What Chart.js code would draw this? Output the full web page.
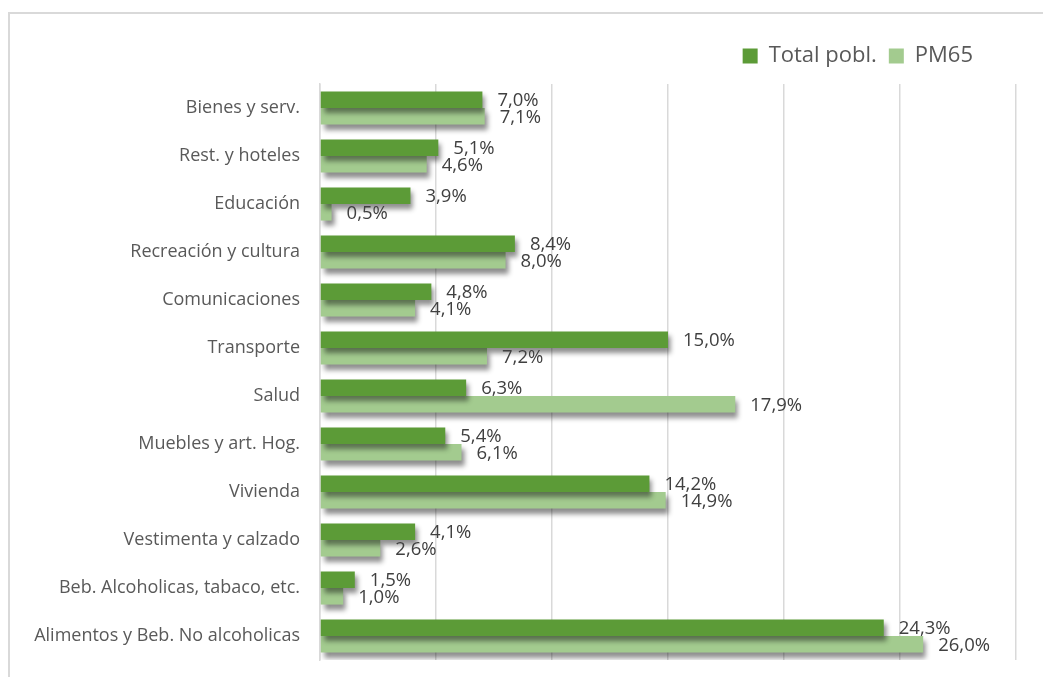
<!DOCTYPE html>
<html>
<head>
<meta charset="utf-8">
<script src="https://cdn.jsdelivr.net/npm/chart.js@4/dist/chart.umd.min.js"></script>
<style>
  html, body { margin:0; padding:0; background:#fff; }
  #wrap { position:relative; width:1043px; height:677px; }
  #frame { position:absolute; left:8px; top:12px; width:1040px; height:680px;
           border-top:2px solid #d9d9d9; border-left:2px solid #d9d9d9; }
  canvas { position:absolute; left:0; top:0; }
</style>
</head>
<body>
<div id="wrap">
  <div id="frame"></div>
  <canvas id="gastoChart" width="1043" height="677"></canvas>
</div>
<script>
// Categorías de gasto
const categorias = ["Bienes y serv.","Rest. y hoteles","Educación","Recreación y cultura",
                    "Comunicaciones","Transporte","Salud","Muebles y art. Hog.","Vivienda",
                    "Vestimenta y calzado","Beb. Alcoholicas, tabaco, etc.","Alimentos y Beb. No alcoholicas"];

// Porcentajes
const totalPobl = [7.0, 5.1, 3.9, 8.4, 4.8, 15.0, 6.3, 5.4, 14.2, 4.1, 1.5, 24.3];
const pm65      = [7.1, 4.6, 0.5, 8.0, 4.1, 7.2, 17.9, 6.1, 14.9, 2.6, 1.0, 26.0];

const fontFam = "'Open Sans', sans-serif";

// Sombra de las barras
const sombra = {
  id:'sombra',
  beforeDatasetDraw(chart){
    const c = chart.ctx;
    c.save();
    c.shadowColor = 'rgba(0,0,0,0.45)';
    c.shadowBlur = 5;
    c.shadowOffsetX = 3;
    c.shadowOffsetY = 5;
  },
  afterDatasetDraw(chart){
    chart.ctx.restore();
  }
};

// Leyenda un poco más a la izquierda y más arriba
const moverLeyenda = {
  id:'moverLeyenda',
  afterLayout(chart){
    const lg = chart.legend;
    if (!lg) return;
    lg.right = 985;
    lg.top -= 7;
    lg.bottom -= 7;
  }
};

// Etiquetas de valor al final de cada barra
const etiquetas = {
  id:'etiquetas',
  afterDatasetsDraw(chart){
    const c = chart.ctx;
    c.save();
    c.font = "18.5px " + fontFam;
    c.fillStyle = '#404040';
    c.textAlign = 'left';
    c.textBaseline = 'middle';
    chart.data.datasets.forEach((ds,i)=>{
      chart.getDatasetMeta(i).data.forEach((bar,j)=>{
        const txt = ds.data[j].toFixed(1).replace('.',',') + '%';
        c.fillText(txt, bar.x + 15, bar.y + 1);
      });
    });
    c.restore();
  }
};

const ctx = document.getElementById('gastoChart').getContext('2d');
new Chart(ctx,{
  type:'bar',
  data:{
    labels:categorias,
    datasets:[
      {label:'Total pobl.', data:totalPobl, backgroundColor:'#5c9b37', borderWidth:0},
      {label:'PM65', data:pm65, backgroundColor:'#a3cb8f', borderWidth:0}
    ]
  },
  options:{
    indexAxis:'y',
    responsive:false,
    animation:false,
    datasets:{bar:{categoryPercentage:0.69, barPercentage:1.0}},
    layout:{padding:{left:0, right:27, top:40, bottom:17}},
    plugins:{
      legend:{
        position:'top', align:'end',
        labels:{
          font:{family:fontFam, size:22}, color:'#595959',
          boxWidth:15, boxHeight:15, padding:12
        }
      },
      tooltip:{enabled:false}
    },
    scales:{
      x:{
        min:0, max:30,
        afterFit(s){ s.height = 0; },
        ticks:{display:false, stepSize:5},
        grid:{color:'#d9d9d9', lineWidth:1.5, drawTicks:false},
        border:{display:false}
      },
      y:{
        afterFit(s){ s.width = 320; s.paddingTop = 0; s.paddingBottom = 0; },
        ticks:{font:{family:fontFam, size:18}, color:'#595959', padding:20},
        grid:{display:false, drawTicks:false},
        border:{color:'#d9d9d9', width:1.5}
      }
    }
  },
  plugins:[sombra, moverLeyenda, etiquetas]
});
</script>
</body>
</html>
